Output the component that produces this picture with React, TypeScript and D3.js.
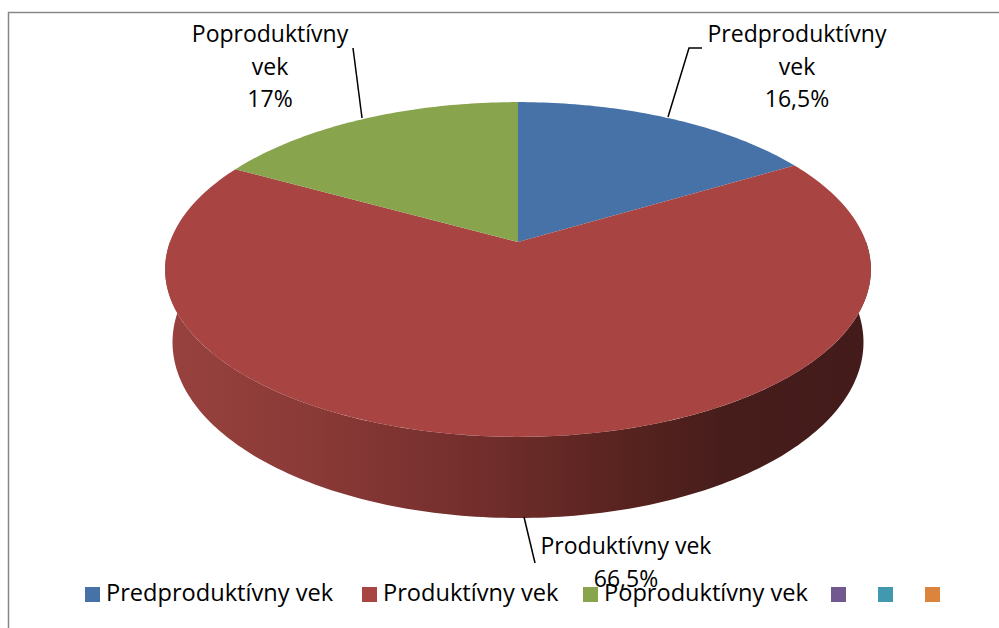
import React from "react";
import * as d3 from "d3";

const categories = ["Predproduktívny vek", "Produktívny vek", "Poproduktívny vek"];
const values = [16.5, 66.5, 17];
const percentLabels = ["16,5%", "66,5%", "17%"];
const sliceColors = ["#4672A7", "#A84542", "#88A54E"];
const extraLegendColors = ["#71588F", "#4198AF", "#DB843D"];

const W = 999;
const H = 628;
const FONT = "'Open Sans', 'Noto Sans', sans-serif";

// 3D projection parameters
const alpha = (27.9 * Math.PI) / 180;
const Dist = 5.381;
const focal = 1873;
const cx = 518;
const cy = 242;
const thick = 0.239;

function project(X: number, Y: number, Z: number): [number, number] {
  const up = Y * Math.cos(alpha) + Z * Math.sin(alpha);
  const depth = Dist + (-Y * Math.sin(alpha) + Z * Math.cos(alpha));
  return [cx + (focal * X) / depth, cy - (focal * up) / depth];
}
const rim = (phi: number, Y: number) => project(Math.sin(phi), Y, Math.cos(phi));

export default function App() {
  const pie = d3.pie<number>().sort(null).value((d) => d)(values);
  const line = d3.line();
  const steps = (a: number, b: number) => {
    const n = Math.max(2, Math.ceil(((b - a) * 180) / Math.PI));
    return d3.range(n + 1).map((i) => a + ((b - a) * i) / n);
  };

  const sides = pie
    .map((s, i) => {
      const a = Math.max(s.startAngle, Math.PI / 2);
      const b = Math.min(s.endAngle, (3 * Math.PI) / 2);
      if (b <= a) return null;
      const ph = steps(a, b);
      const pts = [...ph.map((p) => rim(p, 0)), ...ph.slice().reverse().map((p) => rim(p, -thick))];
      return { i, d: line(pts as [number, number][]) + "Z" };
    })
    .filter(Boolean) as { i: number; d: string }[];

  const tops = pie.map((s, i) => {
    const pts = [project(0, 0, 0), ...steps(s.startAngle, s.endAngle).map((p) => rim(p, 0))];
    return { i, d: line(pts as [number, number][]) + "Z" };
  });

  const legendItems = [
    { color: sliceColors[0], label: categories[0], x: 85 },
    { color: sliceColors[1], label: categories[1], x: 362 },
    { color: sliceColors[2], label: categories[2], x: 583 },
    { color: extraLegendColors[0], label: "", x: 831 },
    { color: extraLegendColors[1], label: "", x: 878 },
    { color: extraLegendColors[2], label: "", x: 925 },
  ];

  const fs = 23;
  const lfs = 23.6;

  return (
    <svg
      width={W}
      height={H}
      style={{ position: "absolute", left: 0, top: 0, background: "#fff" }}
      fontFamily={FONT}
    >
      <defs>
        <linearGradient id="sideGrad" gradientUnits="userSpaceOnUse" x1={165} y1={0} x2={870} y2={0}>
          <stop offset="0" stopColor="#98423f" />
          <stop offset="0.2" stopColor="#8b3a37" />
          <stop offset="0.45" stopColor="#722e2c" />
          <stop offset="0.65" stopColor="#58231f" />
          <stop offset="0.8" stopColor="#461d1b" />
          <stop offset="1" stopColor="#431b1a" />
        </linearGradient>
      </defs>
      <rect x={8.5} y={12.5} width={1100} height={800} fill="#fff" stroke="#878787" strokeWidth={1.5} />

      {sides.map((s) => (
        <path key={"s" + s.i} d={s.d} fill="url(#sideGrad)" />
      ))}
      {tops.map((t) => (
        <path key={"t" + t.i} d={t.d} fill={sliceColors[t.i]} />
      ))}

      {/* leader lines */}
      <g stroke="#000" strokeWidth={1.5} fill="none">
        <polyline points="668,117 689,48 702,48" />
        <polyline points="362,118 353,48" />
        <polyline points="524,517 535,563" />
      </g>

      {/* data labels */}
      <g fontSize={fs} fill="#000" textAnchor="middle">
        <text x={797} y={42}>Predproduktívny</text>
        <text x={797} y={74.5}>vek</text>
        <text x={797} y={107}>{percentLabels[0]}</text>

        <text x={270} y={42}>Poproduktívny</text>
        <text x={270} y={74.5}>vek</text>
        <text x={270} y={107}>{percentLabels[2]}</text>
      </g>

      {/* legend */}
      <g fontSize={lfs} fill="#000">
        {legendItems.map((l, i) => (
          <g key={i}>
            <rect x={l.x} y={587} width={15} height={15} fill={l.color} />
            {l.label && (
              <text x={l.x + 21} y={601}>
                {l.label}
              </text>
            )}
          </g>
        ))}
      </g>

      <g fontSize={fs} fill="#000" textAnchor="middle">
        <text x={626} y={554}>Produktívny vek</text>
        <text x={626} y={586.5}>{percentLabels[1]}</text>
      </g>
    </svg>
  );
}
